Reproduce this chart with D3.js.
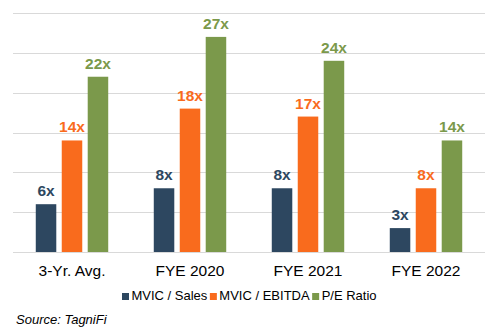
<!DOCTYPE html>
<html>
<head>
<meta charset="utf-8">
<script src="https://d3js.org/d3.v7.min.js"></script>
<style>
  body { margin: 0; background: #fff; }
  svg text { font-family: "Liberation Sans", Arial, sans-serif; }
  .grid line { stroke: #d9d9d9; stroke-width: 1; }
</style>
</head>
<body>
<svg width="500" height="334"></svg>
<script>
// multiples by period
var categories = ["3-Yr. Avg.", "FYE 2020", "FYE 2021", "FYE 2022"];
var seriesNames = ["MVIC / Sales", "MVIC / EBITDA", "P/E Ratio"];
var sales = [6, 8, 8, 3];
var ebitda = [14, 18, 17, 8];
var pe = [22, 27, 24, 14];
var colors = ["#2d4760", "#f96b1d", "#7b994b"];

var values = [sales, ebitda, pe];

var svg = d3.select("svg");
var plotLeft = 13, plotRight = 485, plotTop = 13, plotBottom = 252;

var x0 = d3.scaleBand().domain(categories).range([plotLeft, plotRight])
    .paddingInner(0.386).paddingOuter(0.193);
var x1 = d3.scaleBand().domain(d3.range(seriesNames.length))
    .range([0, x0.bandwidth()]).paddingInner(0.21);
var y = d3.scaleLinear().domain([0, 30]).range([plotBottom, plotTop]);

// horizontal gridlines every 5x
svg.append("g").attr("class", "grid")
  .selectAll("line").data(y.ticks(6)).enter().append("line")
  .attr("x1", plotLeft).attr("x2", plotRight)
  .attr("y1", function(d) { return Math.round(y(d)) + 0.5; })
  .attr("y2", function(d) { return Math.round(y(d)) + 0.5; });

var groups = svg.append("g").selectAll("g").data(categories).enter().append("g")
  .attr("transform", function(d) { return "translate(" + x0(d) + ",0)"; });

groups.each(function(cat, ci) {
  var g = d3.select(this);
  seriesNames.forEach(function(s, si) {
    var v = values[si][ci];
    g.append("rect")
      .attr("x", x1(si)).attr("width", x1.bandwidth())
      .attr("y", y(v)).attr("height", y(0) - y(v))
      .attr("fill", colors[si]);
    g.append("text")
      .attr("x", x1(si) + x1.bandwidth() / 2)
      .attr("y", y(v) - 8)
      .attr("text-anchor", "middle")
      .attr("font-size", 15.5).attr("font-weight", "bold")
      .attr("fill", colors[si])
      .text(v + "x");
  });
});

// category labels
var xAxis = svg.append("g").attr("transform", "translate(0," + plotBottom + ")")
  .call(d3.axisBottom(x0).tickSize(0).tickPadding(8));
xAxis.select(".domain").remove();
xAxis.selectAll("text")
  .attr("font-family", "Liberation Sans, Arial, sans-serif")
  .attr("font-size", 15.5).attr("fill", "#000").attr("dy", 0)
  .attr("y", 24);

// legend
var lx = 122;
seriesNames.forEach(function(s, i) {
  svg.append("rect").attr("x", lx).attr("y", 293).attr("width", 7).attr("height", 7)
    .attr("fill", colors[i]);
  var t = svg.append("text").attr("x", lx + 9.5).attr("y", 300)
    .attr("font-size", 13).attr("fill", "#000").text(s);
  lx += 9.5 + t.node().getComputedTextLength() + 2.5;
});

svg.append("text").attr("x", 16).attr("y", 323.5)
  .attr("font-size", 13).attr("font-style", "italic").attr("fill", "#000")
  .text("Source: TagniFi");
</script>
</body>
</html>
